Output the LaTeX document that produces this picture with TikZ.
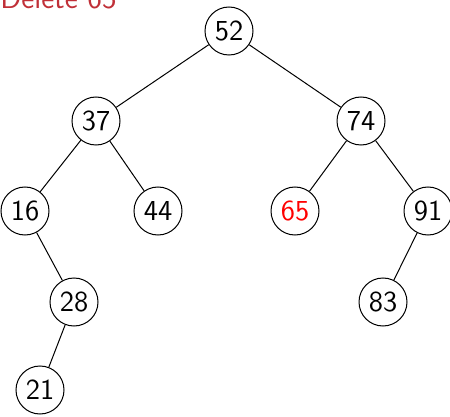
\documentclass[tikz,border=0pt]{standalone}
\usepackage{xcolor}
\usepackage{tikz}
\definecolor{titlered}{RGB}{192,48,56}
\tikzset{
  bstnode/.style={draw, circle, minimum size=24pt, inner sep=0pt, line width=0.5pt,
    font=\sffamily\fontsize{14.5}{17}\selectfont},
}
\begin{document}
\begin{tikzpicture}[x=0.5pt, y=-0.5pt]
			\useasboundingbox (0,0) rectangle (450,417);
			% 标题
			\node[anchor=base west, inner sep=0pt, text=titlered, font=\sffamily\fontsize{15.5}{18}\selectfont] (title) at (0,9) {Delete 65};
			% 结点
			\node[bstnode] (n52) at (229,31) {52};
			\node[bstnode] (n37) at (96,121) {37};
			\node[bstnode] (n74) at (361,121) {74};
			\node[bstnode] (n16) at (25,211) {16};
			\node[bstnode] (n44) at (158,211) {44};
			\node[bstnode, text=red] (n65) at (295,211) {65};
			\node[bstnode] (n91) at (428,211) {91};
			\node[bstnode] (n28) at (74,302) {28};
			\node[bstnode] (n83) at (383,302) {83};
			\node[bstnode] (n21) at (40,390) {21};
			% 边
			\draw[line width=0.5pt] (n52) -- (n37);
			\draw[line width=0.5pt] (n52) -- (n74);
			\draw[line width=0.5pt] (n37) -- (n16);
			\draw[line width=0.5pt] (n37) -- (n44);
			\draw[line width=0.5pt] (n74) -- (n65);
			\draw[line width=0.5pt] (n74) -- (n91);
			\draw[line width=0.5pt] (n16) -- (n28);
			\draw[line width=0.5pt] (n91) -- (n83);
			\draw[line width=0.5pt] (n28) -- (n21);
		\end{tikzpicture}
\end{document}
